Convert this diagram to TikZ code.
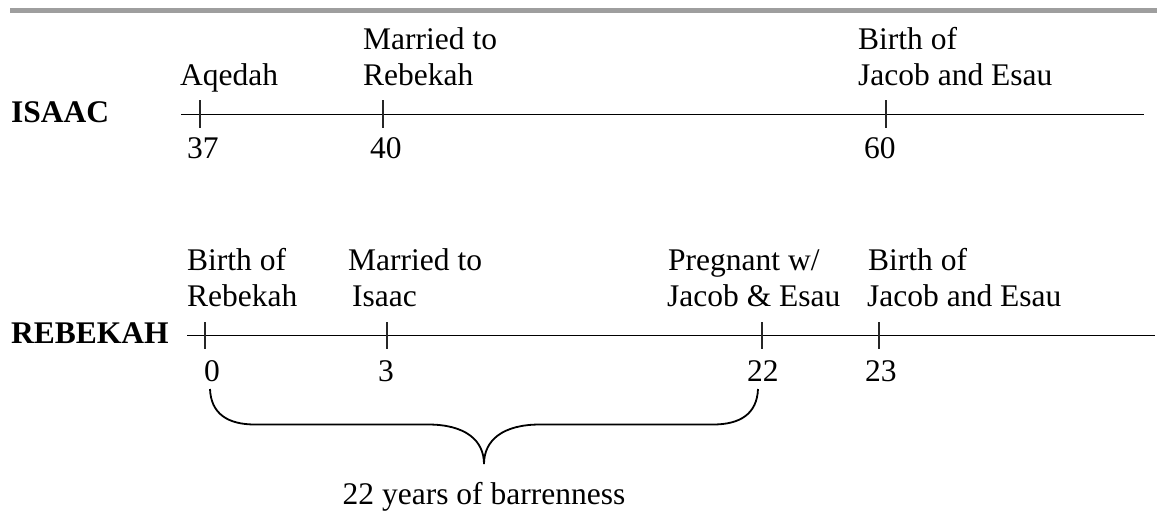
\documentclass[tikz,border=0pt]{standalone}
\usepackage{fontspec}
\setmainfont{Liberation Serif}
\begin{document}
\begin{tikzpicture}[x=1pt,y=-1pt,
  lbl/.style={anchor=base west,inner sep=0pt,font=\fontsize{31.5}{36}\selectfont},
  ttl/.style={lbl,font=\fontsize{31.5}{36}\selectfont\bfseries},
  tline/.style={line width=1.2pt,black},
  tick/.style={line width=1.3pt,black!85},
  bracel/.style={line width=1.8pt,black}]
\useasboundingbox (0,0) rectangle (1157,523);
% top gray rule
\coordinate (gL) at (10,10.5);
\coordinate (gR) at (1157,10.5);
\draw[line width=4.5pt,black!38] (gL) -- (gR);

% ---------- ISAAC ----------
\node[ttl] (isaac) at (11,122) {ISAAC};
\coordinate (iS) at (181,114.5);
\coordinate (iE) at (1144,114.5);
\draw[tline] (iS) -- (iE);
\foreach \n/\x in {a/200,b/383,c/886}{
  \coordinate (it\n t) at (\x,100);
  \coordinate (it\n b) at (\x,128);
  \draw[tick] (it\n t) -- (it\n b);
}
\node[lbl] (iaq) at (180,85) {Aqedah};
\node[lbl] (im1) at (363,49) {Married to};
\node[lbl] (im2) at (363,85) {Rebekah};
\node[lbl] (ib1) at (858,49) {Birth of};
\node[lbl] (ib2) at (858,85) {Jacob and Esau};
\node[lbl] (i37) at (187,158) {37};
\node[lbl] (i40) at (370,158) {40};
\node[lbl] (i60) at (864,158) {60};

% ---------- REBEKAH ----------
\node[ttl] (rebekah) at (11,343) {REBEKAH};
\coordinate (rS) at (187,335.5);
\coordinate (rE) at (1155,335.5);
\draw[tline] (rS) -- (rE);
\foreach \n/\x in {a/205,b/387,c/762,d/879}{
  \coordinate (rt\n t) at (\x,322);
  \coordinate (rt\n b) at (\x,349);
  \draw[tick] (rt\n t) -- (rt\n b);
}
\node[lbl] (rb1) at (187,270) {Birth of};
\node[lbl] (rb2) at (187,306) {Rebekah};
\node[lbl] (rm1) at (348,270) {Married to};
\node[lbl] (rm2) at (352,306) {Isaac};
\node[lbl] (rp1) at (668,270) {Pregnant w/};
\node[lbl] (rp2) at (667,306) {Jacob \& Esau};
\node[lbl] (rj1) at (868,270) {Birth of};
\node[lbl] (rj2) at (867,306) {Jacob and Esau};
\node[lbl] (r0) at (204,381) {0};
\node[lbl] (r3) at (378,381) {3};
\node[lbl] (r22) at (747,381) {22};
\node[lbl] (r23) at (865,381) {23};

% ---------- brace ----------
\coordinate (bL) at (210,389);
\coordinate (bR) at (758,389);
\coordinate (bC) at (484,464);
\draw[bracel] (bL) .. controls (211,414) and (228,424.5) .. (255,424.5)
  -- (428,424.5) .. controls (465,424.5) and (484,440) .. (bC)
  .. controls (484,440) and (503,424.5) .. (540,424.5)
  -- (713,424.5) .. controls (740,424.5) and (757,414) .. (bR);
\node[lbl,anchor=base] (barren) at (484,504) {22 years of barrenness};
\end{tikzpicture}
\end{document}
